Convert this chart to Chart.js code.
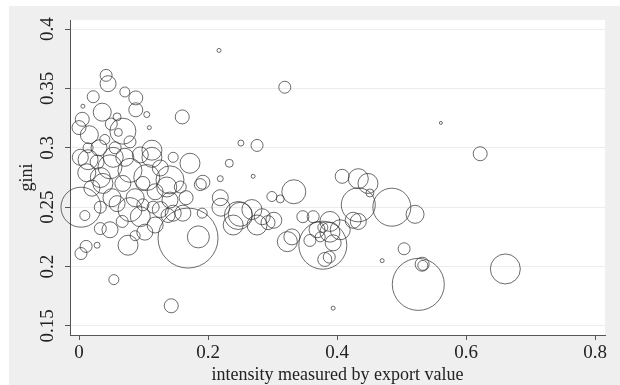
<!DOCTYPE html>
<html><head><meta charset="utf-8">
<script src="https://cdn.jsdelivr.net/npm/chart.js@4/dist/chart.umd.min.js"></script>
<style>html,body{margin:0;padding:0;background:#fff;}#wrap{position:absolute;left:0;top:0;width:620px;height:385px;}</style>
</head><body><div id="wrap"><canvas id="c" width="620" height="385"></canvas></div>
<script>
const intensity = [0.217,0.319,0.561,0.622,0.661,0.526,0.504,0.532,0.533,0.394,
0.143,0.054,0.169,0.185,0.003,0.003,0.011,0.028,0.076,0.433,
0.485,0.521,0.378,0.381,0.388,0.042,0.045,0.071,0.088,0.022,
0.006,0.036,0.088,0.105,0.059,0.005,0.109,0.000,0.068,0.061,
0.016,0.160,0.251,0.276,0.233,0.219,0.270,0.002,0.014,0.028,
0.053,0.071,0.095,0.113,0.048,0.079,0.105,0.141,0.172,0.146,
0.192,0.033,0.012,0.037,0.068,0.099,0.136,0.157,0.188,0.033,
0.059,0.079,0.099,0.115,0.126,0.146,0.161,0.138,0.191,0.095,
0.118,0.048,0.033,0.219,0.220,0.250,0.268,0.284,0.293,0.302,
0.299,0.312,0.333,0.323,0.247,0.276,0.239,0.408,0.433,0.448,
0.451,0.425,0.433,0.347,0.363,0.389,0.369,0.389,0.405,0.378,
0.358,0.374,0.394,0.470,0.330,0.113,0.126,0.031,0.020,0.051,
0.087,0.118,0.067,0.009,0.040,0.014,0.141,0.166,0.087,0.102,
0.050,0.079,0.056];
const gini = [0.382,0.351,0.321,0.295,0.198,0.185,0.215,0.202,0.201,0.165,
0.167,0.189,0.224,0.225,0.250,0.211,0.217,0.218,0.218,0.252,
0.250,0.244,0.218,0.206,0.208,0.361,0.354,0.347,0.342,0.343,
0.335,0.330,0.332,0.328,0.326,0.324,0.317,0.317,0.314,0.313,
0.311,0.326,0.304,0.302,0.287,0.274,0.276,0.292,0.290,0.288,
0.292,0.292,0.294,0.292,0.284,0.281,0.275,0.273,0.287,0.292,
0.271,0.275,0.279,0.270,0.270,0.270,0.267,0.267,0.269,0.250,
0.253,0.248,0.252,0.250,0.248,0.245,0.245,0.243,0.245,0.242,
0.235,0.231,0.232,0.258,0.250,0.244,0.248,0.242,0.237,0.239,
0.259,0.257,0.263,0.221,0.243,0.235,0.235,0.276,0.274,0.270,
0.262,0.239,0.238,0.242,0.242,0.238,0.231,0.229,0.231,0.233,
0.222,0.225,0.220,0.205,0.225,0.298,0.283,0.300,0.266,0.258,
0.258,0.263,0.238,0.243,0.307,0.300,0.256,0.258,0.226,0.229,
0.320,0.305,0.300];
const bubbleSize = [2,6,1.5,7,15,26,6,7,5,2,
7,5,30,11,20,6,6,3,10,17,
19,9,24,7,6,6,8,5,7,6,
2,9,7,3,4,7,2,7,13,4,
9,7,3,6,4,3,2,8,10,7,
10,9,8,10,12,12,13,14,10,5,
7,10,9,10,8,7,10,6,6,6,
8,12,6,6,8,8,8,7,5,10,
8,8,6,8,9,12,10,8,7,8,
5,4,12,10,14,10,10,7,10,10,
4,8,8,6,6,10,8,10,10,5,
6,5,8,2,8,10,8,8,8,9,
9,8,6,5,5,5,8,7,5,8,
6,6,6];
const xTicks = [0, 0.2, 0.4, 0.6, 0.8];
const yTicks = [0.15, 0.2, 0.25, 0.3, 0.35, 0.4];
const xTitle = 'intensity measured by export value';
const yTitle = 'gini';

const SERIF = '"Liberation Serif", "DejaVu Serif", serif';
const AXIS = '#555555';

const bgPlugin = {
  id: 'bg',
  beforeDraw(chart) {
    const {ctx, chartArea: a} = chart;
    ctx.save();
    ctx.fillStyle = '#efefef';
    ctx.fillRect(9, 6, 611, 379);
    ctx.fillStyle = '#ffffff';
    ctx.fillRect(a.left, a.top, a.right - a.left, a.bottom - a.top);
    ctx.restore();
  }
};
const yLabelPlugin = {
  id: 'ylabels',
  afterDraw(chart) {
    const {ctx} = chart;
    const s = chart.scales.y;
    ctx.save();
    ctx.fillStyle = '#222';
    ctx.font = '19px ' + SERIF;
    ctx.textAlign = 'center';
    ctx.textBaseline = 'middle';
    s.ticks.forEach(t => {
      const py = s.getPixelForValue(t.value);
      ctx.save();
      ctx.translate(48, py);
      ctx.rotate(-Math.PI / 2);
      ctx.fillText(String(t.value), 0, 0);
      ctx.restore();
    });
    ctx.restore();
  }
};

new Chart(document.getElementById('c'), {
  type: 'bubble',
  data: {
    datasets: [{
      data: intensity.map((x, i) => ({x: x, y: gini[i], r: bubbleSize[i]})),
      backgroundColor: 'rgba(0,0,0,0)',
      borderColor: 'rgba(50,50,50,0.8)',
      borderWidth: 0.9,
      clip: false
    }]
  },
  options: {
    responsive: false,
    devicePixelRatio: 1,
    animation: false,
    layout: {autoPadding: false, padding: {left: 0, top: 20, right: 15, bottom: 0}},
    plugins: {legend: {display: false}, tooltip: {enabled: false}},
    scales: {
      x: {
        type: 'linear',
        min: -0.014, max: 0.8155,
        afterBuildTicks: s => { s.ticks = xTicks.map(v => ({value: v})); },
        afterFit: s => { s.height = 50; s.paddingLeft = 0; s.paddingRight = 0; },
        ticks: {font: {family: SERIF, size: 19}, color: '#222', padding: 2, maxRotation: 0,
                callback: v => String(v)},
        grid: {drawOnChartArea: false, drawTicks: true, tickLength: 5, color: AXIS, tickColor: AXIS},
        border: {display: true, color: AXIS, width: 1},
        title: {display: true, text: xTitle, font: {family: SERIF, size: 18, lineHeight: 1},
                color: '#222', padding: {top: 0, bottom: 1}}
      },
      y: {
        type: 'linear',
        min: 0.1424, max: 0.4076,
        afterBuildTicks: s => { s.ticks = yTicks.map(v => ({value: v})); },
        afterFit: s => { s.width = 70; s.paddingTop = 0; s.paddingBottom = 0; },
        ticks: {display: false},
        grid: {drawOnChartArea: true, drawTicks: true, tickLength: 5, color: '#ececec', tickColor: AXIS},
        border: {display: true, color: AXIS, width: 1},
        title: {display: true, text: yTitle, font: {family: SERIF, size: 18, lineHeight: 1},
                color: '#222', padding: {top: 18, bottom: 0}}
      }
    }
  },
  plugins: [bgPlugin, yLabelPlugin]
});
</script>
</body></html>
